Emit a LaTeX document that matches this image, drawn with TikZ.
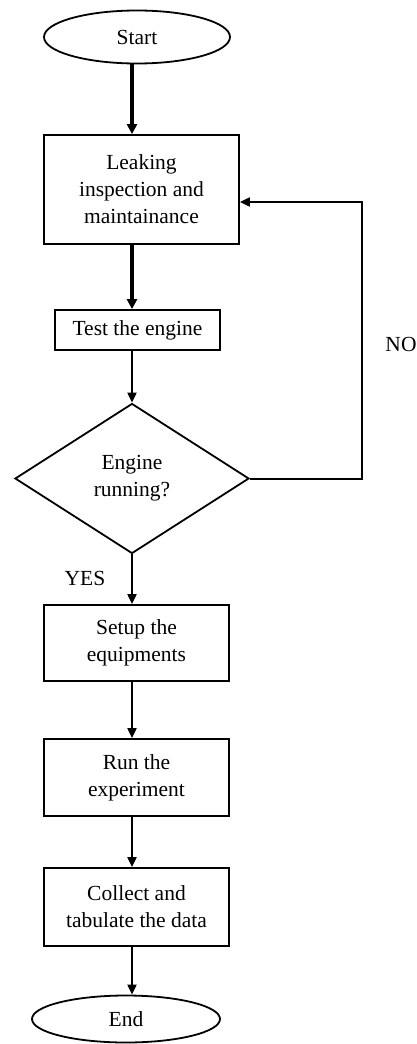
\documentclass[tikz,border=0pt]{standalone}
\usepackage{fontspec}
\setmainfont{Liberation Serif}
\usetikzlibrary{shapes.geometric,arrows.meta}
\begin{document}
\begin{tikzpicture}[x=1pt,y=-1pt,
  every node/.style={font=\fontsize{21.5}{27}\selectfont, align=center},
  boxnode/.style={draw, line width=1.8pt, rectangle, inner sep=0pt},
  ovalnode/.style={draw, line width=1.8pt, ellipse, inner sep=0pt},
  decnode/.style={draw, line width=1.8pt, diamond, inner sep=0pt, aspect=1.56},
  thickarr/.style={line width=3.4pt, -{Triangle[length=10pt,width=10pt]}},
  thinarr/.style={line width=2pt, -{Triangle[length=10pt,width=9pt]}}]
\useasboundingbox (0,0) rectangle (417,1044);
\coordinate (sp) at (132,0);
\node[ovalnode, minimum width=186pt, minimum height=53pt] (start) at (137,37) {Start};
\node[boxnode, minimum width=195pt, minimum height=109pt] (leak) at (141.5,189.5) {Leaking\\inspection and\\maintainance};
\node[boxnode, minimum width=165pt, minimum height=40pt] (test) at (137.5,330) {Test the engine};
\node[decnode, minimum width=234pt, minimum height=150pt] (dec) at (132,478.5) {Engine\\running?};
\node[boxnode, minimum width=185pt, minimum height=76pt] (setup) at (136.5,643) {Setup the\\equipments};
\node[boxnode, minimum width=185pt, minimum height=77pt] (run) at (136.5,777.5) {Run the\\experiment};
\node[boxnode, minimum width=185pt, minimum height=78pt] (coll) at (136.5,907) {Collect and\\tabulate the data};
\node[ovalnode, minimum width=188pt, minimum height=47pt] (end) at (126,1019) {End};
\node (no) at (401,344) {NO};
\node (yes) at (85,578) {YES};
\coordinate (loopx) at (362,0);
\draw[thickarr] (start.south -| sp) -- (leak.north -| sp);
\draw[thickarr] (leak.south -| sp) -- (test.north -| sp);
\draw[thinarr] (test.south -| sp) -- (dec.north);
\draw[thinarr] (dec.south) -- (setup.north -| sp);
\draw[thinarr] (setup.south -| sp) -- (run.north -| sp);
\draw[thinarr] (run.south -| sp) -- (coll.north -| sp);
\draw[thinarr] (coll.south -| sp) -- (end.north -| sp);
\coordinate (ly) at (0,202);
\draw[thinarr] (dec.east) -- (dec.east -| loopx) -- (ly -| loopx) -- (ly -| leak.east);
\end{tikzpicture}
\end{document}
